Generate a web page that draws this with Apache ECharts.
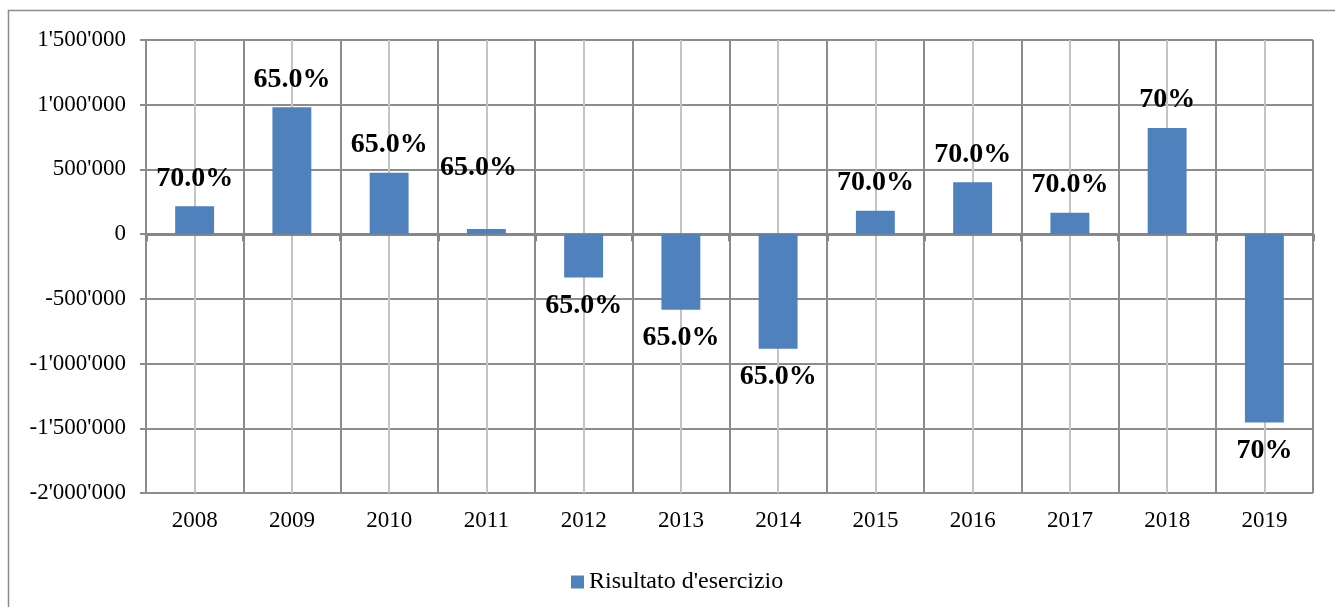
<!DOCTYPE html>
<html>
<head>
<meta charset="utf-8">
<style>
  html, body { margin: 0; padding: 0; background: #fff; }
  #chart { width: 1335px; height: 607px; }
</style>
<script src="https://cdn.jsdelivr.net/npm/echarts@6/dist/echarts.min.js"></script>
</head>
<body>
<div id="chart"></div>
<script>
// dati
var years = ['2008', '2009', '2010', '2011', '2012', '2013', '2014', '2015', '2016', '2017', '2018', '2019'];
var risultato = [215000, 980000, 475000, 40000, -335000, -585000, -885000, 180000, 400000, 165000, 820000, -1455000];
var percentuali = ['70.0%', '65.0%', '65.0%', '65.0%', '65.0%', '65.0%', '65.0%', '70.0%', '70.0%', '70.0%', '70%', '70%'];
var seriesName = "Risultato d'esercizio";

var FONT = '"Liberation Serif", "DejaVu Serif", serif';

// 1'500'000 style
function fmt(v) {
    var s = String(Math.abs(v)).replace(/\B(?=(\d{3})+(?!\d))/g, "'");
    return (v < 0 ? '-' : '') + s;
}

var barData = risultato.map(function(v, i) {
    var item = {
        value: v,
        label: { position: v < 0 ? 'bottom' : 'top' }
    };
    // etichetta 2011 spostata a mano come nell'originale
    if (i === 3) item.label.offset = [-8, -33];
    return item;
});

var myChart = echarts.init(document.getElementById('chart'));
var option = {
    animation: false,
    backgroundColor: '#fff',
    graphic: [{
        type: 'rect',
        shape: { x: 8.5, y: 10.5, width: 1400, height: 700 },
        style: { fill: 'none', stroke: '#8c8c8c', lineWidth: 1.5 },
        silent: true
    }],
    grid: { left: 146, top: 40, right: 22, bottom: 114 },
    legend: {
        bottom: 13,
        left: 571,
        padding: 0,
        icon: 'rect',
        itemWidth: 13,
        itemHeight: 13,
        itemGap: 6,
        textStyle: { fontFamily: FONT, fontSize: 24, color: '#000' },
        data: [seriesName]
    },
    xAxis: [
        {
            // etichette in basso
            type: 'category',
            data: years,
            position: 'bottom',
            axisLine: { show: false, onZero: false },
            axisTick: { show: false },
            splitLine: { show: false },
            axisLabel: { color: '#000', fontFamily: FONT, fontSize: 23, margin: 16 }
        },
        {
            // linea dello zero
            type: 'category',
            data: years,
            position: 'bottom',
            axisLine: { show: true, onZero: true, lineStyle: { color: '#878787', width: 3 } },
            axisTick: { show: true, length: 7, inside: false, lineStyle: { color: '#878787', width: 3 } },
            axisLabel: { show: false },
            splitLine: { show: false }
        },
        {
            // griglia verticale
            type: 'value',
            min: 0,
            max: 12,
            interval: 0.5,
            show: true,
            position: 'top',
            axisLine: { show: false },
            axisTick: { show: false },
            axisLabel: { show: false },
            splitLine: { show: true, lineStyle: { color: ['#8c8c8c', '#c4c4c4'], width: 2 } }
        }
    ],
    yAxis: {
        type: 'value',
        min: -2000000,
        max: 1500000,
        interval: 500000,
        axisLine: { show: true, lineStyle: { color: '#8c8c8c', width: 2 } },
        axisTick: { show: true, length: 6, lineStyle: { color: '#8c8c8c', width: 2 } },
        axisLabel: {
            color: '#000',
            fontFamily: FONT,
            fontSize: 23,
            margin: 20,
            formatter: fmt
        },
        splitLine: { show: true, lineStyle: { color: '#8c8c8c', width: 2 } }
    },
    series: [{
        name: seriesName,
        type: 'bar',
        xAxisIndex: 0,
        barWidth: '40%',
        itemStyle: { color: '#4F81BD' },
        label: {
            show: true,
            distance: 14,
            color: '#000',
            fontFamily: FONT,
            fontWeight: 'bold',
            fontSize: 28,
            formatter: function(p) { return percentuali[p.dataIndex]; }
        },
        data: barData,
        z: 3
    }]
};
myChart.setOption(option);
</script>
</body>
</html>
